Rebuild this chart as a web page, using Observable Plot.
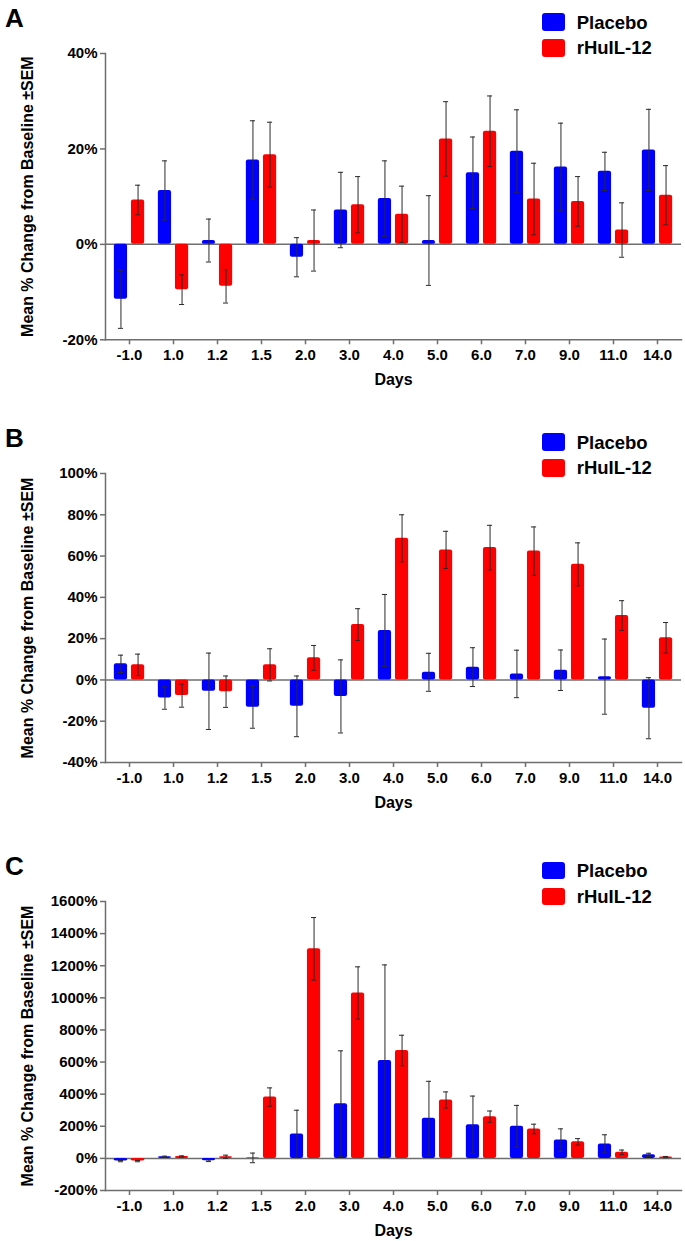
<!DOCTYPE html>
<html>
<head>
<meta charset="utf-8">
<script src="https://cdn.jsdelivr.net/npm/d3@7"></script>
<script src="https://cdn.jsdelivr.net/npm/@observablehq/plot@0.6"></script>
<style>
  html, body { margin: 0; padding: 0; background: #fff; }
  #root { position: relative; width: 685px; height: 1241px; overflow: hidden;
          font-family: "Liberation Sans", Arial, Helvetica, sans-serif; font-weight: bold; color: #000; }
  .abs { position: absolute; }
  .letter { font-size: 26px; line-height: 26px; }
  .legtext { font-size: 18.5px; line-height: 18.5px; white-space: nowrap; }
  .sw { width: 23px; height: 17.4px; border-radius: 3px; }
  g[aria-label="x-axis label"] text, g[aria-label="y-axis label"] text { font-size: 16px; }
</style>
</head>
<body>
<div id="root"></div>
<script>
// ---------- data ----------
const days = ["-1.0","1.0","1.2","1.5","2.0","3.0","4.0","5.0","6.0","7.0","9.0","11.0","14.0"];
const groups = ["Placebo", "rHuIL-12"];
const colors = ["#0000ff", "#ff0000"];

// Panel A
const aPlacebo    = [-11.5, 11.3, 0.8, 17.7, -2.7, 7.2, 9.6, 0.8, 15.0, 19.5, 16.2, 15.3, 19.8];
const aPlaceboSem = [6.1, 6.2, 4.5, 8.2, 4.1, 7.9, 7.9, 9.4, 7.5, 8.7, 9.2, 4.0, 8.5];
const aDrug       = [9.3, -9.5, -8.8, 18.8, 0.8, 8.3, 6.3, 22.1, 23.7, 9.5, 9.0, 3.0, 10.3];
const aDrugSem    = [3.1, 3.1, 3.5, 6.8, 6.4, 5.9, 5.9, 7.8, 7.4, 7.5, 5.2, 5.7, 6.2];
const aTicks = [-20, 0, 20, 40];

// Panel B
const bPlacebo    = [7.8, -8.8, -5.5, -13.2, -12.8, -8.0, 24.0, 3.7, 6.2, 2.9, 4.7, 1.6, -13.7];
const bPlaceboSem = [4.2, 5.4, 18.5, 10.2, 14.7, 17.7, 17.4, 9.2, 9.4, 11.5, 9.8, 18.2, 14.8];
const bDrug       = [7.3, -7.6, -5.7, 7.3, 10.7, 26.8, 68.6, 63.0, 64.1, 62.4, 56.0, 31.2, 20.4];
const bDrugSem    = [5.2, 5.6, 7.6, 7.8, 6.0, 7.7, 11.4, 9.0, 10.8, 11.7, 10.4, 7.2, 7.4];
const bTicks = [-40, -20, 0, 20, 40, 60, 80, 100];

// Panel C
const cPlacebo    = [-17, 10, -15, 3, 152, 340, 610, 250, 210, 200, 114, 90, 22];
const cPlaceboSem = [4, 4, 5, 30, 148, 330, 595, 230, 178, 130, 70, 57, 10];
const cDrug       = [-17, 12, 10, 382, 1305, 1030, 672, 364, 260, 183, 103, 38, 8];
const cDrugSem    = [4, 4, 10, 57, 195, 163, 95, 50, 35, 30, 20, 14, 4];
const cTicks = [-200, 0, 200, 400, 600, 800, 1000, 1200, 1400, 1600];

const yLabel = "Mean % Change from Baseline ±SEM";

// ---------- layout ----------
const root = document.getElementById("root");
const FONT = '"Liberation Sans", Arial, Helvetica, sans-serif';

function el(cls, styles, text) {
  const d = document.createElement("div");
  d.className = "abs " + cls;
  Object.assign(d.style, styles);
  if (text != null) d.textContent = text;
  root.appendChild(d);
  return d;
}

function table(pl, plSem, dr, drSem) {
  const rows = [];
  days.forEach((day, i) => {
    rows.push({day, group: groups[0], value: pl[i], sem: plSem[i]});
    rows.push({day, group: groups[1], value: dr[i], sem: drSem[i]});
  });
  return rows;
}

function panel({letter, P, plotH, pl, plSem, dr, drSem, ticks}) {
  el("letter", {left: "5px", top: (P - 3.4) + "px"}, letter);
  el("sw", {left: "542.3px", top: (P + 5) + "px", background: colors[0]});
  el("sw", {left: "542.3px", top: (P + 31) + "px", background: colors[1]});
  el("legtext", {left: "576.7px", top: (P + 5.3) + "px"}, groups[0]);
  el("legtext", {left: "576.7px", top: (P + 31) + "px"}, groups[1]);

  const rows = table(pl, plSem, dr, drSem);
  const pR = rows.filter(d => d.group === groups[0]);
  const dR = rows.filter(d => d.group === groups[1]);
  const mt = 10, mb = 62;
  const axisStroke = "#6e6e6e";
  const fmt = d => `${d}%`;
  const errStroke = "#2a2a2a";

  const chart = Plot.plot({
    width: 685,
    height: mt + plotH + mb,
    marginLeft: 105, marginRight: 4, marginTop: mt, marginBottom: mb,
    style: {fontFamily: FONT, fontWeight: "bold", fontSize: "15px", color: "#000", background: "transparent", overflow: "visible"},
    x: {type: "band", domain: days, padding: 0, label: null},
    y: {domain: [ticks[0], ticks[ticks.length - 1]], label: null},
    marks: [
      Plot.frame({anchor: "left", stroke: axisStroke, strokeWidth: 1.5}),
      Plot.frame({anchor: "bottom", stroke: axisStroke, strokeWidth: 1.5}),
      Plot.axisX({tickSize: 5, tickPadding: 5, stroke: axisStroke, strokeWidth: 1.5,
                  label: "Days", labelAnchor: "center", labelOffset: 45, labelArrow: "none"}),
      Plot.axisY({ticks, tickFormat: fmt, tickSize: 5, tickPadding: 3, stroke: axisStroke, strokeWidth: 1.5,
                  label: yLabel, labelAnchor: "center", labelOffset: 84, labelArrow: "none"}),
      Plot.ruleY([0], {stroke: axisStroke, strokeWidth: 1.5}),
      Plot.barY(pR, {x: "day", y: "value", fill: colors[0], insetLeft: 6.85, insetRight: 23.95, rx: 2}),
      Plot.barY(dR, {x: "day", y: "value", fill: colors[1], insetLeft: 23.95, insetRight: 6.85, rx: 2}),
      Plot.ruleX(pR, {x: "day", y1: d => d.value - d.sem, y2: d => d.value + d.sem, dx: -8.55, stroke: errStroke, strokeWidth: 1}),
      Plot.ruleX(dR, {x: "day", y1: d => d.value - d.sem, y2: d => d.value + d.sem, dx: 8.55, stroke: errStroke, strokeWidth: 1}),
      Plot.tickY(pR, {x: "day", y: d => d.value + d.sem, insetLeft: 10.9, insetRight: 28, stroke: errStroke, strokeWidth: 1}),
      Plot.tickY(pR, {x: "day", y: d => d.value - d.sem, insetLeft: 10.9, insetRight: 28, stroke: errStroke, strokeWidth: 1}),
      Plot.tickY(dR, {x: "day", y: d => d.value + d.sem, insetLeft: 28, insetRight: 10.9, stroke: errStroke, strokeWidth: 1}),
      Plot.tickY(dR, {x: "day", y: d => d.value - d.sem, insetLeft: 28, insetRight: 10.9, stroke: errStroke, strokeWidth: 1})
    ]
  });
  const wrap = el("", {left: "0px", top: (P + 44.4 - mt) + "px"});
  wrap.appendChild(chart);
}

panel({letter: "A", P: 8.3, plotH: 286.3, pl: aPlacebo, plSem: aPlaceboSem, dr: aDrug, drSem: aDrugSem, ticks: aTicks});
panel({letter: "B", P: 428.3, plotH: 289, pl: bPlacebo, plSem: bPlaceboSem, dr: bDrug, drSem: bDrugSem, ticks: bTicks});
panel({letter: "C", P: 856.6, plotH: 289, pl: cPlacebo, plSem: cPlaceboSem, dr: cDrug, drSem: cDrugSem, ticks: cTicks});
</script>
</body>
</html>
